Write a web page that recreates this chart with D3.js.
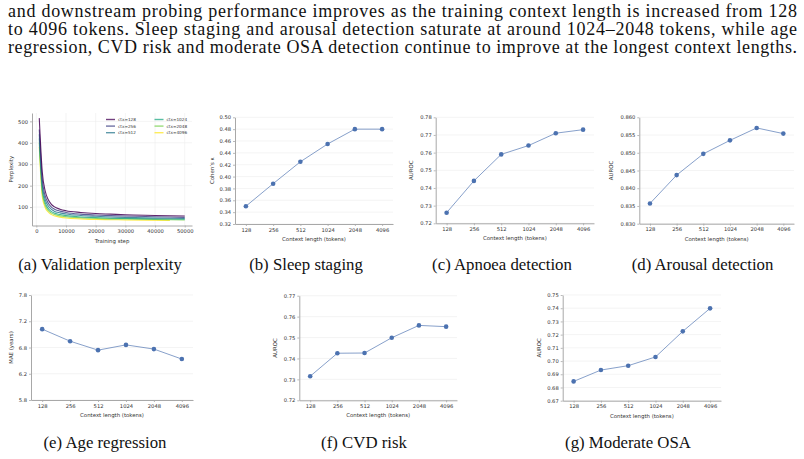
<!DOCTYPE html>
<html>
<head>
<meta charset="utf-8">
<script src="https://cdn.jsdelivr.net/npm/d3@7"></script>
<style>
  html, body { margin: 0; padding: 0; background: #fff; }
  svg { display: block; }
</style>
</head>
<body>
<svg id="fig" width="804" height="459"></svg>
<script>
// ---------------- DATA ----------------
const bodyLines = [
  "and downstream probing performance improves as the training context length is increased from 128",
  "to 4096 tokens. Sleep staging and arousal detection saturate at around 1024\u20132048 tokens, while age",
  "regression, CVD risk and moderate OSA detection continue to improve at the longest context lengths."
];
const contexts = ["128", "256", "512", "1024", "2048", "4096"];
const sleepKappa   = [0.350, 0.388, 0.425, 0.455, 0.480, 0.480];
const apnoeaAuroc  = [0.726, 0.744, 0.759, 0.764, 0.771, 0.773];
const arousalAuroc = [0.8357, 0.8437, 0.8497, 0.8535, 0.8570, 0.8554];
const ageMae       = [7.10, 6.87, 6.70, 6.80, 6.72, 6.53];
const cvdAuroc     = [0.7315, 0.7425, 0.7426, 0.7499, 0.7558, 0.7552];
const osaAuroc     = [0.6846, 0.6932, 0.6965, 0.7031, 0.7225, 0.7399];

const ageTicks      = [5.75, 6.25, 6.75, 7.25, 7.75];
const ageTickLabels = ["5.8", "6.2", "6.8", "7.2", "7.8"];

const pplLabels = ["ctx=128", "ctx=256", "ctx=512", "ctx=1024", "ctx=2048", "ctx=4096"];
const pplSteps  = [1000, 2000, 3000, 4000, 5000, 6000, 8000, 10000, 15000, 20000, 25000, 30000, 40000, 50000];
const ppl128  = [515, 265, 175, 135, 114, 102, 90, 83, 75, 70, 67, 64, 61, 58];
const ppl256  = [462, 230, 152, 119, 101, 91, 81, 75, 67, 63, 60, 58, 55, 52];
const ppl512  = [440, 205, 135, 106, 90, 81, 73, 68, 61, 57, 54, 52, 49, 47];
const ppl1024 = [420, 185, 120, 94, 80, 72, 65, 60, 54, 51, 48, 47, 45, 43];
const ppl2048 = [400, 168, 108, 85, 73, 66, 59, 55, 50, 47, 45, 44, 42, 40];
const ppl4096 = [380, 150, 97, 77, 66, 59, 53, 49, 45, 42, 41, 40, 38];   // ends at 45000
const pplSteps4096 = [1000, 2000, 3000, 4000, 5000, 6000, 8000, 10000, 15000, 20000, 25000, 30000, 45000];
const pplColors = ["#440154", "#414487", "#2a788e", "#22a884", "#7ad151", "#fde725"];

const captionsRow1 = ["(a) Validation perplexity", "(b) Sleep staging", "(c) Apnoea detection", "(d) Arousal detection"];
const captionsRow2 = ["(e) Age regression", "(f) CVD risk", "(g) Moderate OSA"];

// ---------------- DRAW ----------------
const svg = d3.select("#fig");
const SERIF = "'Liberation Serif', 'Times New Roman', Times, serif";
const SANS = "'DejaVu Sans', sans-serif";
const SPINE = "#a8a8a8", GRID = "#ececec", TXT = "#333";
const TICKFS = 5.2, LABFS = 5.4;

// body text: size chosen so the last line fills the text width naturally
const TEXTW = 789;
const probe = svg.append("text").attr("font-family", SERIF).attr("font-size", 20).text(bodyLines[2]);
const natural = probe.node().getComputedTextLength();
probe.remove();
const bodyFS = Math.min(18, 20 * TEXTW / natural);
bodyLines.forEach((t, i) => {
  svg.append("text").attr("x", 8).attr("y", 17 + i * 18.2)
    .attr("font-family", SERIF).attr("font-size", bodyFS).attr("fill", "#111")
    .attr("textLength", TEXTW).attr("lengthAdjust", "spacing").text(t);
});

function styleAxis(g) {
  g.select(".domain").attr("stroke", SPINE).attr("stroke-width", 1);
  g.selectAll(".tick line").attr("stroke", SPINE).attr("stroke-width", 0.8);
  g.selectAll(".tick text").attr("fill", TXT).attr("font-family", SANS).attr("font-size", TICKFS);
}

function panel(cfg) {
  const g = svg.append("g");
  const x = d3.scaleLinear().domain(cfg.xDomain).range([cfg.left, cfg.right]);
  const y = d3.scaleLinear().domain(cfg.yDomain).range([cfg.bottom, cfg.top]);
  g.selectAll(".hg").data(cfg.yTicks).enter().append("line")
    .attr("x1", cfg.left).attr("x2", cfg.right)
    .attr("y1", d => y(d)).attr("y2", d => y(d))
    .attr("stroke", GRID).attr("stroke-width", 0.6);
  if (cfg.vGrid) {
    g.selectAll(".vg").data(cfg.xTicks).enter().append("line")
      .attr("y1", cfg.top).attr("y2", cfg.bottom)
      .attr("x1", d => x(d)).attr("x2", d => x(d))
      .attr("stroke", GRID).attr("stroke-width", 0.6);
  }
  const xa = g.append("g").attr("transform", `translate(0,${cfg.bottom})`)
    .call(d3.axisBottom(x).tickValues(cfg.xTicks).tickFormat(cfg.xFormat).tickSize(2).tickPadding(2).tickSizeOuter(0));
  styleAxis(xa);
  const ya = g.append("g").attr("transform", `translate(${cfg.left},0)`)
    .call(d3.axisLeft(y).tickValues(cfg.yTicks).tickFormat(cfg.yFormat).tickSize(2).tickPadding(2).tickSizeOuter(0));
  styleAxis(ya);
  g.append("text").attr("x", (cfg.left + cfg.right) / 2).attr("y", cfg.bottom + 17)
    .attr("text-anchor", "middle").attr("font-family", SANS).attr("font-size", LABFS).attr("fill", TXT)
    .text(cfg.xLabel);
  g.append("text")
    .attr("transform", `translate(${cfg.left - cfg.yLabelOff},${(cfg.top + cfg.bottom) / 2}) rotate(-90)`)
    .attr("text-anchor", "middle").attr("font-family", SANS).attr("font-size", LABFS).attr("fill", TXT)
    .text(cfg.yLabel);
  return { g, x, y };
}

function linePanel(cfg, values) {
  const idx = contexts.map((c, i) => i);
  const p = panel(Object.assign({
    xDomain: [-0.4, 5.4], xTicks: idx, xFormat: i => contexts[i],
    xLabel: "Context length (tokens)"
  }, cfg));
  const pts = values.map((v, i) => [i, v]);
  p.g.append("path").datum(pts)
    .attr("d", d3.line().x(d => p.x(d[0])).y(d => p.y(d[1])))
    .attr("fill", "none").attr("stroke", "#4c72b0").attr("stroke-opacity", 0.75).attr("stroke-width", 0.9);
  p.g.selectAll("circle").data(pts).enter().append("circle")
    .attr("cx", d => p.x(d[0])).attr("cy", d => p.y(d[1])).attr("r", 2.3)
    .attr("fill", "#4c72b0");
}

// (a) perplexity
(function () {
  const p = panel({
    left: 32, right: 192, top: 113, bottom: 225.5,
    xDomain: [-1450, 52450], xTicks: [0, 10000, 20000, 30000, 40000, 50000], xFormat: d3.format("d"),
    yDomain: [14, 539], yTicks: [100, 200, 300, 400, 500], yFormat: d3.format("d"),
    xLabel: "Training step", yLabel: "Perplexity", yLabelOff: 19, vGrid: true
  });
  const series = [ppl128, ppl256, ppl512, ppl1024, ppl2048, ppl4096];
  const line = d3.line().curve(d3.curveMonotoneX).x(d => p.x(d[0])).y(d => p.y(d[1]));
  series.slice().reverse().forEach((vals, ri) => {
    const i = series.length - 1 - ri;
    const steps = i === 5 ? pplSteps4096 : pplSteps;
    const pts = vals.map((v, k) => [steps[k], v]);
    p.g.append("path").datum(pts).attr("d", line)
      .attr("fill", "none").attr("stroke", pplColors[i]).attr("stroke-width", 1.1).attr("stroke-opacity", 0.85);
  });
  pplLabels.forEach((lab, i) => {
    const col = Math.floor(i / 3), row = i % 3;
    const lx = col === 0 ? 106 : 154.5, ly = 119.5 + row * 6.6;
    p.g.append("line").attr("x1", lx).attr("x2", lx + 9).attr("y1", ly).attr("y2", ly)
      .attr("stroke", pplColors[i]).attr("stroke-width", 1.4).attr("stroke-opacity", 0.75);
    p.g.append("text").attr("x", lx + 12).attr("y", ly + 1.4)
      .attr("font-family", SANS).attr("font-size", 4.2).attr("fill", TXT).text(lab);
  });
})();

const f2 = d3.format(".2f"), f3 = d3.format(".3f");
linePanel({ left: 235, right: 393, top: 117.3, bottom: 224,
  yDomain: [0.32, 0.50], yTicks: d3.range(0, 10).map(k => 0.32 + k * 0.02), yFormat: f2,
  yLabel: "Cohen\u2019s \u03ba", yLabelOff: 21.5 }, sleepKappa);
linePanel({ left: 435.7, right: 594, top: 117.3, bottom: 223.3,
  yDomain: [0.72, 0.78], yTicks: d3.range(0, 7).map(k => 0.72 + k * 0.01), yFormat: f2,
  yLabel: "AUROC", yLabelOff: 22.4 }, apnoeaAuroc);
linePanel({ left: 639.3, right: 794, top: 117.3, bottom: 223.7,
  yDomain: [0.830, 0.860], yTicks: d3.range(0, 7).map(k => 0.830 + k * 0.005), yFormat: f3,
  yLabel: "AUROC", yLabelOff: 26 }, arousalAuroc);

linePanel({ left: 31, right: 193, top: 295, bottom: 400,
  yDomain: [5.75, 7.75], yTicks: ageTicks, yFormat: (d, i) => ageTickLabels[i],
  yLabel: "MAE (years)", yLabelOff: 18 }, ageMae);
linePanel({ left: 299.3, right: 457, top: 295.7, bottom: 400.3,
  yDomain: [0.72, 0.77], yTicks: d3.range(0, 6).map(k => 0.72 + k * 0.01), yFormat: f2,
  yLabel: "AUROC", yLabelOff: 22.6 }, cvdAuroc);
linePanel({ left: 562.7, right: 721, top: 295, bottom: 400.7,
  yDomain: [0.67, 0.75], yTicks: d3.range(0, 9).map(k => 0.67 + k * 0.01), yFormat: f2,
  yLabel: "AUROC", yLabelOff: 21.7 }, osaAuroc);

// captions
const cx1 = [100, 306, 502, 702.5], cx2 = [105, 364, 628];
captionsRow1.forEach((t, i) => svg.append("text").attr("x", cx1[i]).attr("y", 270)
  .attr("text-anchor", "middle").attr("font-family", SERIF).attr("font-size", 16.8).attr("fill", "#111").text(t));
captionsRow2.forEach((t, i) => svg.append("text").attr("x", cx2[i]).attr("y", 448)
  .attr("text-anchor", "middle").attr("font-family", SERIF).attr("font-size", 16.8).attr("fill", "#111").text(t));
</script>
</body>
</html>
